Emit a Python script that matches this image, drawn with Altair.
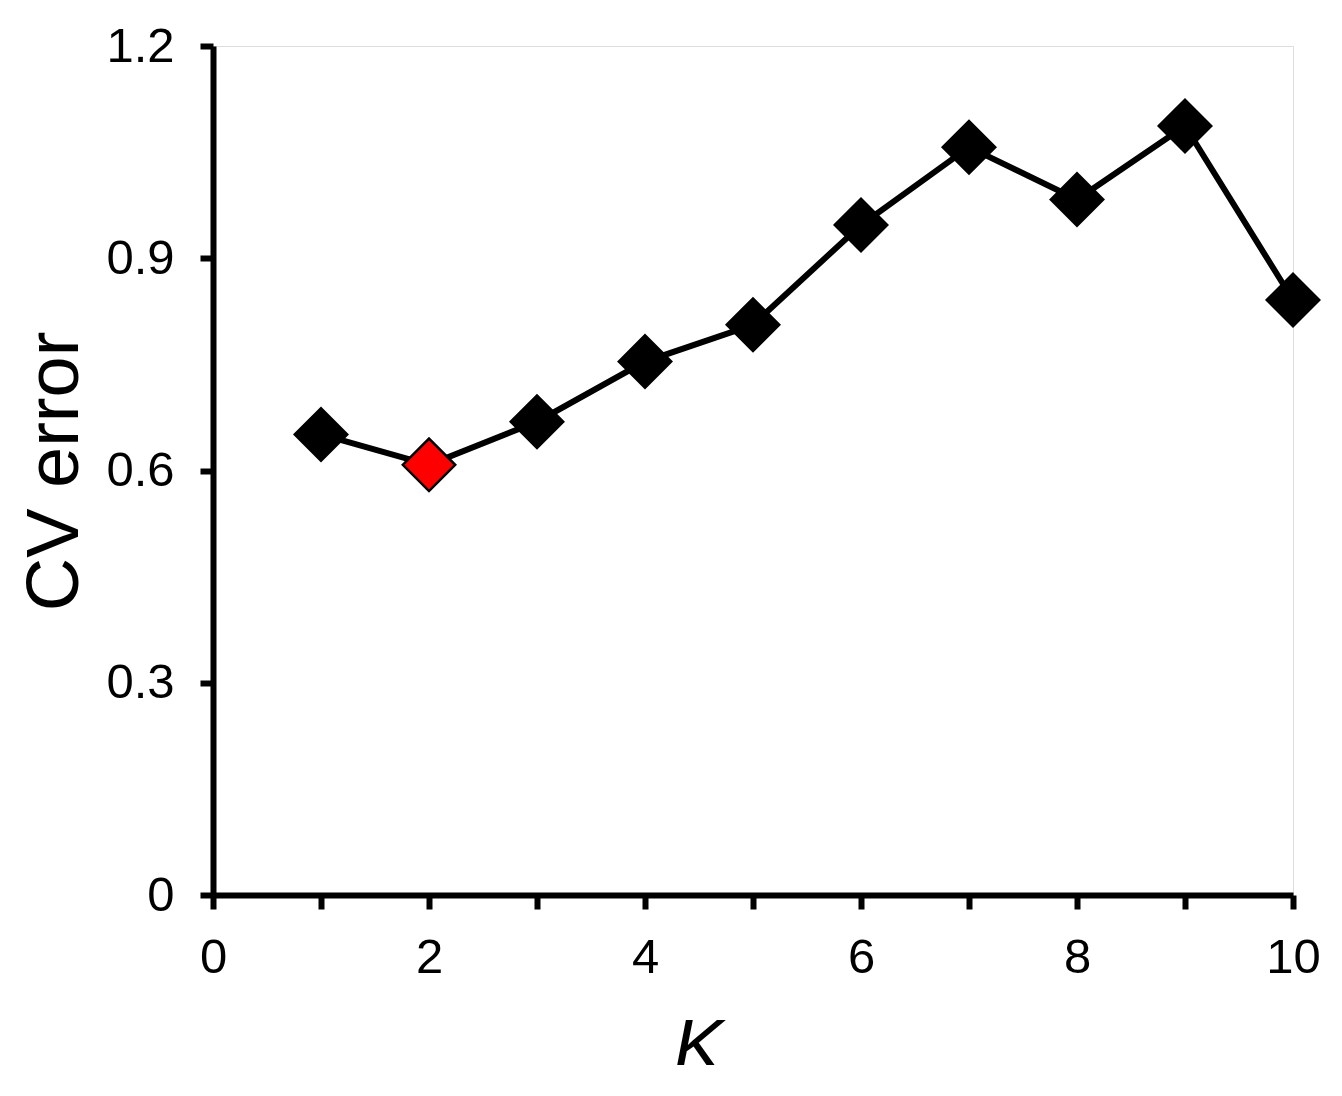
import altair as alt
import pandas as pd

k_values = [1, 2, 3, 4, 5, 6, 7, 8, 9, 10]
cv_error = [0.651, 0.608, 0.669, 0.754, 0.806, 0.947, 1.057, 0.983, 1.087, 0.841]
x_ticks = [0, 1, 2, 3, 4, 5, 6, 7, 8, 9, 10]
y_ticks = [0, 0.3, 0.6, 0.9, 1.2]

best_k = k_values[cv_error.index(min(cv_error))]
df = pd.DataFrame({"K": k_values, "CV": cv_error})
df["best"] = df["K"] == best_k

FONT = "Liberation Sans"

x_enc = alt.X(
    "K:Q",
    scale=alt.Scale(domain=[0, 10], nice=False, zero=False),
    axis=alt.Axis(
        values=x_ticks,
        labelExpr="datum.value % 2 == 0 ? format(datum.value, 'd') : ''",
        title="K",
        titleFontStyle="italic",
        titleFontWeight="normal",
        titleFontSize=74,
        titleFont=FONT,
        titleColor="black",
        titleX=485,
        titleY=175,
        titleAnchor="start",
        titleAlign="center",
        titleBaseline="alphabetic",
        grid=False,
        domainColor="black",
        domainWidth=6,
        tickColor="black",
        tickWidth=6,
        tickSize=14,
        labelFont=FONT,
        labelFontSize=49,
        labelColor="black",
        labelPadding=24,
        labelFlush=False,
        labelOverlap=False,
    ),
)

y_enc = alt.Y(
    "CV:Q",
    scale=alt.Scale(domain=[0, 1.2], nice=False),
    axis=alt.Axis(
        values=y_ticks,
        labelExpr="datum.value == 0 ? '0' : format(datum.value, '.1f')",
        title="CV error",
        titleFontWeight="normal",
        titleFontSize=74,
        titleFont=FONT,
        titleColor="black",
        titleAngle=270,
        titleX=-136,
        titleY=425,
        titleAlign="center",
        titleBaseline="alphabetic",
        grid=False,
        domainColor="black",
        domainWidth=6,
        tickColor="black",
        tickWidth=6,
        tickSize=13,
        labelFont=FONT,
        labelFontSize=49,
        labelColor="black",
        labelPadding=26,
        labelFlush=False,
        labelOverlap=False,
    ),
)

base = alt.Chart(df)

line = base.mark_line(color="black", strokeWidth=6).encode(x=x_enc, y=y_enc)

points = base.mark_point(
    shape="diamond", filled=True, size=2750, stroke="black", strokeWidth=2.5, opacity=1
).encode(
    x="K:Q",
    y="CV:Q",
    fill=alt.condition("datum.best", alt.value("#ff0000"), alt.value("black")),
)

chart = (
    alt.layer(line, points)
    .properties(
        width=1080,
        height=849,
        padding={"left": 205, "top": 38, "right": 30, "bottom": 170},
        autosize=alt.AutoSizeParams(type="none"),
    )
    .configure_view(strokeWidth=0, stroke="white", fill="white")
    .configure(background="white")
)

chart.save("out.html", embed_options={"renderer": "svg", "actions": False})
